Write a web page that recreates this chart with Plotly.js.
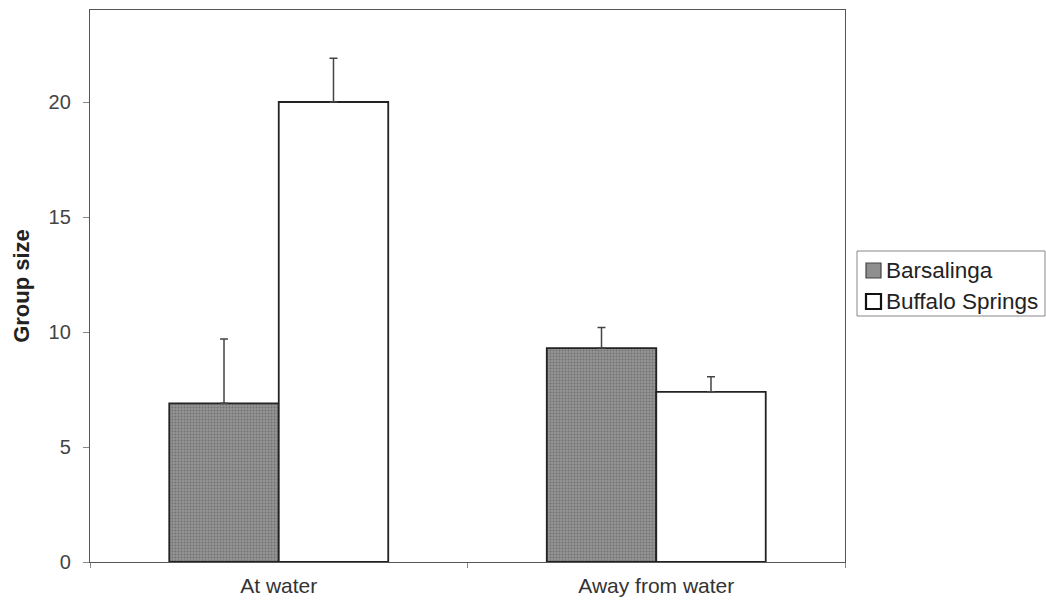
<!DOCTYPE html>
<html><head><meta charset="utf-8">
<script src="https://cdn.plot.ly/plotly-3.0.1.min.js"></script>
<style>body{margin:0;background:#fff}</style>
</head><body>
<div id="chart" style="width:1046px;height:607px"></div>
<script>
const categories = ["At water", "Away from water"];
const seriesNames = ["Barsalinga", "Buffalo Springs"];
const barsalinga = [6.9, 9.3];
const barsalingaErr = [2.8, 0.9];
const buffalo = [20.0, 7.4];
const buffaloErr = [1.9, 0.65];
const yTicks = [0, 5, 10, 15, 20];

const M = {l: 90, r: 201, t: 10, b: 45};
const W = 1046, H = 607;
const pw = W - M.l - M.r, ph = H - M.t - M.b;
const px2x = p => (p - M.l) / pw;
const px2y = p => (H - M.b - p) / ph;

const greyFill = {color: '#8f8f8f', line: {color: '#222', width: 1.8},
  pattern: {shape: '.', bgcolor: '#959595', fgcolor: '#727272', size: 3, solidity: 0.35}};

const traces = [
  {type: 'bar', name: seriesNames[0], x: categories, y: barsalinga, showlegend: false,
   marker: greyFill,
   error_y: {type: 'data', symmetric: false, array: barsalingaErr, arrayminus: [0, 0], color: '#444', thickness: 1.5, width: 4}},
  {type: 'bar', name: seriesNames[1], x: categories, y: buffalo, showlegend: false,
   marker: {color: '#ffffff', line: {color: '#222', width: 1.8}},
   error_y: {type: 'data', symmetric: false, array: buffaloErr, arrayminus: [0, 0], color: '#444', thickness: 1.5, width: 4}}
];

// custom legend (box, swatches, labels)
const shapes = [
  {type: 'rect', xref: 'paper', yref: 'paper', x0: px2x(857), x1: px2x(1045), y0: px2y(316), y1: px2y(251),
   line: {color: '#888', width: 1}, fillcolor: 'rgba(0,0,0,0)'},
  {type: 'rect', xref: 'paper', yref: 'paper', x0: px2x(866), x1: px2x(881), y0: px2y(278), y1: px2y(263),
   line: {color: '#444', width: 1.2}, fillcolor: '#8f8f8f'},
  {type: 'rect', xref: 'paper', yref: 'paper', x0: px2x(866), x1: px2x(881), y0: px2y(309), y1: px2y(294),
   line: {color: '#111', width: 2.2}, fillcolor: '#ffffff'}
];
const annotations = [
  {xref: 'paper', yref: 'paper', x: px2x(884), y: px2y(270), xanchor: 'left', yanchor: 'middle', showarrow: false,
   text: seriesNames[0], font: {size: 22.5, color: '#222'}},
  {xref: 'paper', yref: 'paper', x: px2x(884), y: px2y(301), xanchor: 'left', yanchor: 'middle', showarrow: false,
   text: seriesNames[1], font: {size: 22.5, color: '#222'}}
];

const layout = {
  width: W, height: H, margin: M,
  paper_bgcolor: '#fff', plot_bgcolor: '#fff',
  font: {family: 'Liberation Sans, Arial, sans-serif', size: 20, color: '#333'},
  barmode: 'group', bargap: 0.42, bargroupgap: 0,
  showlegend: false, shapes: shapes, annotations: annotations,
  xaxis: {type: 'category', showline: true, linecolor: '#555', linewidth: 1.2, mirror: true,
          ticks: 'outside', tickson: 'boundaries', ticklen: 5, tickcolor: '#888', ticklabelstandoff: 5,
          showgrid: false, zeroline: false, tickfont: {size: 21, color: '#333'}},
  yaxis: {range: [0, 24], tickvals: yTicks, showline: true, linecolor: '#555', linewidth: 1.2, mirror: true,
          ticks: 'outside', ticklen: 6, tickcolor: '#888', ticklabelstandoff: 8, showgrid: false, zeroline: false,
          tickfont: {size: 20, color: '#444'},
          title: {text: '<b>Group size</b>', font: {size: 22, color: '#222'}, standoff: 12}}
};
Plotly.newPlot('chart', traces, layout, {displayModeBar: false, staticPlot: true});
</script>
</body></html>
